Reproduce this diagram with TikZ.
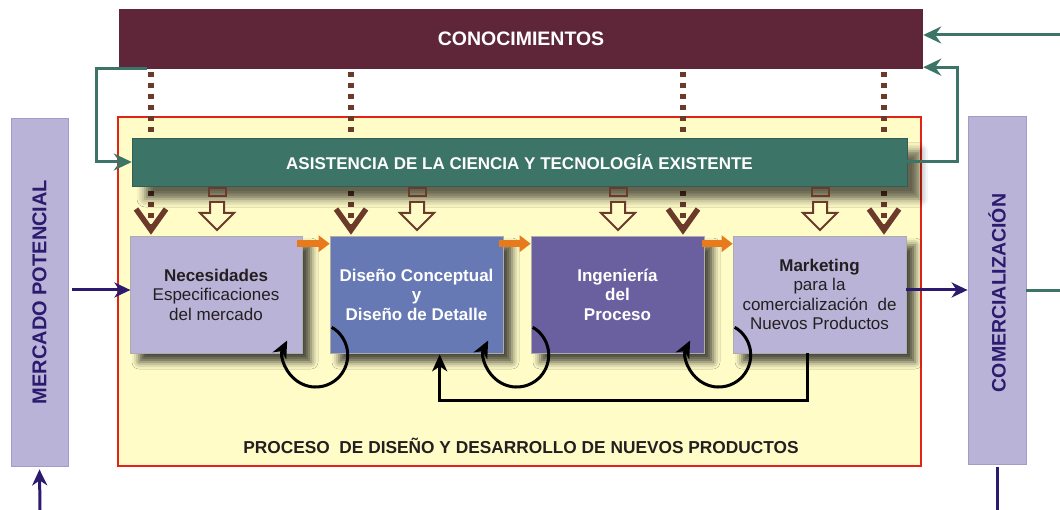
\documentclass[tikz,border=0pt]{standalone}
\usepackage{fontspec}
\setmainfont{Liberation Sans}
\usetikzlibrary{arrows.meta,shadows.blur,calc}
\definecolor{conoc}{HTML}{5F2639}
\definecolor{tealc}{HTML}{3D7468}
\definecolor{yel}{HTML}{FFFCC8}
\definecolor{redb}{HTML}{E2231A}
\definecolor{lav}{HTML}{B9B3D7}
\definecolor{lavb}{HTML}{A39CCB}
\definecolor{blueb}{HTML}{6679B5}
\definecolor{purp}{HTML}{6B609F}
\definecolor{navy}{HTML}{2B1A6E}
\definecolor{brownd}{HTML}{6B3A2A}
\definecolor{orng}{HTML}{E87A1E}
\definecolor{darktxt}{HTML}{231F20}
\begin{document}
\begin{tikzpicture}[x=1pt,y=-1pt,line join=miter,
 box/.style={draw=gray!65, line width=0.6pt, minimum width=172pt, minimum height=117pt,
   inner sep=0pt, align=center, font=\fontsize{17}{19.5}\selectfont,
   blur shadow={shadow xshift=9pt, shadow yshift=-9pt, shadow blur radius=7pt, shadow opacity=70}},
 sidebox/.style={fill=lav, draw=lavb, line width=0.8pt, minimum width=57pt, minimum height=348pt, inner sep=0pt},
 sidetext/.style={rotate=90, text=navy, font=\bfseries\fontsize{20}{24}\selectfont},
 tealarr/.style={draw=tealc, line width=3pt, -{Stealth[length=18pt,width=17pt,inset=6pt]}},
 tealline/.style={draw=tealc, line width=3pt},
 navyarr/.style={draw=navy, line width=3pt, -{Stealth[length=16pt,width=15pt,inset=5pt]}},
 navyline/.style={draw=navy, line width=3pt},
 blackarr/.style={draw=black, line width=3pt, -{Stealth[length=17pt,width=15pt,inset=5pt]}},
 dotline/.style={draw=brownd, line width=5.5pt, dash pattern=on 5pt off 6pt},
 vhead/.style={draw=brownd, line width=5.5pt},
 hollow/.style={draw=brownd, line width=2pt},
 orarr/.style={draw=orng, line width=6.5pt, -{Triangle[length=11pt,width=16pt]}},
 ]
\useasboundingbox (0,0) rectangle (1060,510);

% knowledge bar
\node[fill=conoc, minimum width=804pt, minimum height=60pt, inner sep=0pt,
  text=white, font=\bfseries\fontsize{19.5}{22}\selectfont] (con) at (521,39) {CONOCIMIENTOS};

% process frame
\node[fill=yel, draw=redb, line width=2.5pt, minimum width=803pt, minimum height=349pt, inner sep=0pt] (frame) at (519.5,291.5) {};

% side boxes
\node[sidebox] (mer) at (39.5,292) {};
\node[sidetext] (mertxt) at (mer.center) {MERCADO POTENCIAL};
\node[sidebox, minimum width=58pt] (com) at (997,290) {};
\node[sidetext, font=\bfseries\fontsize{19.5}{24}\selectfont] (comtxt) at ($(com.center)+(0,3)$) {COMERCIALIZACIÓN};

% dotted lines from knowledge
\foreach \x in {151,351,683,884}{
  \draw[dotline] (\x,72) -- (\x,136);
  \draw[dotline] (\x,191) -- (\x,225);
}

% assistance bar
\node[fill=tealc, draw=tealc!80!black, line width=0.5pt, minimum width=775pt, minimum height=48pt, inner sep=0pt,
  text=white, font=\bfseries\fontsize{17}{20}\selectfont,
  blur shadow={shadow xshift=13pt, shadow yshift=-13pt, shadow blur radius=8pt, shadow opacity=60}]
  (asis) at (519.5,162) {ASISTENCIA DE LA CIENCIA Y TECNOLOGÍA EXISTENTE};

% V heads
\foreach \x in {151,351,683,884}{
  \draw[vhead] (\x-15,209) -- (\x,230) -- (\x+15,209);
}
% hollow block arrows
\foreach \x in {217,417,618,820}{
  \draw[hollow] (\x-8.5,188) rectangle (\x+8.5,196);
  \draw[hollow, fill=yel] (\x-7,202) -- (\x+7,202) -- (\x+7,213) -- (\x+17,213) -- (\x,230)
     -- (\x-17,213) -- (\x-7,213) -- cycle;
}

% process boxes
\node[box, fill=lav, text=darktxt] (b1) at (216,294.5) {\textbf{Necesidades}\\Especificaciones\\del mercado};
\node[box, fill=blueb, text=white, font=\bfseries\fontsize{17}{19.5}\selectfont, minimum width=173pt] (b2) at (416.5,294.5) {Diseño Conceptual\\y\\Diseño de Detalle};
\node[box, fill=purp, text=white, font=\bfseries\fontsize{17}{19.5}\selectfont, minimum width=173pt] (b3) at (617.5,294.5) {Ingeniería\\del\\Proceso};
\node[box, fill=lav, text=darktxt, minimum width=173pt] (b4) at (819.5,294.5) {\textbf{Marketing}\\para la\\comercialización\ \ de\\Nuevos Productos};

% orange arrows
\draw[orarr] ($(b1.north east)+(-5,8)$) -- ($(b2.north west)+(0,8)$);
\draw[orarr] ($(b2.north east)+(-4,8)$) -- ($(b3.north west)+(0,8)$);
\draw[orarr] ($(b3.north east)+(-2,8)$) -- ($(b4.north west)+(0,8)$);

% self loops
\draw[blackarr] ($(b2.south west)+(2,-26)$) arc[start angle=-60, end angle=207, radius=32];
\draw[blackarr] ($(b3.south west)+(2,-26)$) arc[start angle=-60, end angle=207, radius=32];
\draw[blackarr] ($(b4.south west)+(2,-26)$) arc[start angle=-60, end angle=207, radius=32];

% feedback
\draw[blackarr] ($(b4.south west)+(75,0)$) -- ++(0,47) -| ($(b2.south west)+(110,1)$);

% bottom title
\node[anchor=base, text=darktxt, font=\bfseries\fontsize{17.3}{20}\selectfont, inner sep=0pt] (ptitle) at (521,453)
  {PROCESO\ \ DE DISEÑO Y DESARROLLO DE NUEVOS PRODUCTOS};

% teal connectors
\coordinate (tin) at (1060,35);
\draw[tealarr] (tin) -- (tin -| con.east);
\draw[tealarr] (asis.east) -- ++(50,0) |- ($(con.south east)+(0,-2)$);
\draw[tealarr] ($(con.south west)+(28,-1)$) -- ++(-50,0) |- (asis.west);
\coordinate (tout) at (1060,291);
\draw[tealline] (com.east |- tout) -- (tout);

% navy connectors
\draw[navyarr] ($(mer.east)+(4,-2)$) -- ($(mer.east)+(62,-2)$);
\draw[navyarr] (com.west -| b4.east) -- (com.west);
\coordinate (min) at (40,510);
\draw[navyarr] (min) -- ($(mer.south)+(0,3)$);
\coordinate (cout) at (997,510);
\draw[navyline] ($(com.south)+(0,3)$) -- (cout);
\end{tikzpicture}
\end{document}
